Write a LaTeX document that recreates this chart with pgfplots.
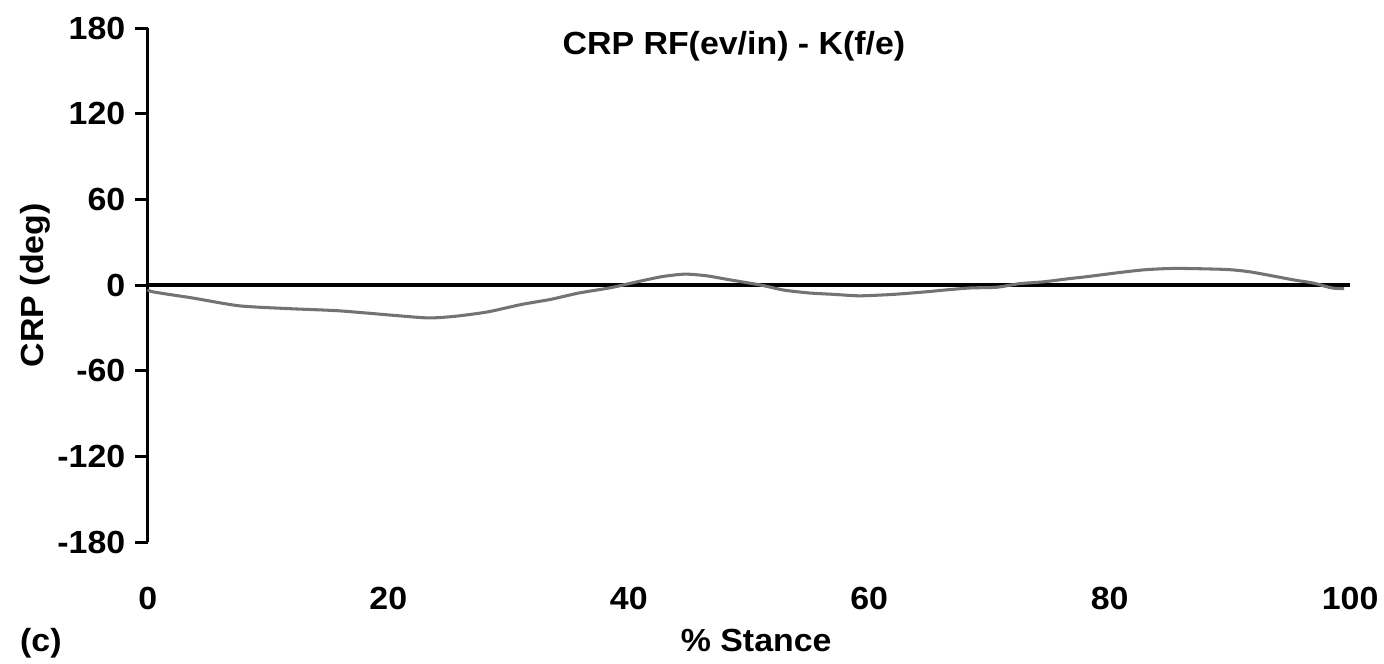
\documentclass[border=0pt]{standalone}
\usepackage{fontspec}
\setmainfont{Liberation Sans}[FakeStretch=1.06]
\usepackage{pgfplots}
\pgfplotsset{compat=1.18}
\begin{document}
\begin{tikzpicture}
\begin{axis}[
  at={(0,0)}, anchor=south west,
  scale only axis, width=432.4pt, height=184.9pt,
  xmin=0, xmax=100, ymin=-180, ymax=180,
  axis y line*=left, axis x line*=bottom,
  axis line style={-},
  x axis line style={draw=none},
  y axis line style={line width=1.1pt},
  xtick={0,20,...,100}, ytick={-180,-120,...,180},
  xtick style={draw=none},
  ytick style={black, line width=1.1pt},
  tick align=outside, major tick length=4.6pt,
  tick label style={font=\fontsize{11.5}{13}\selectfont\bfseries},
  xticklabel style={yshift=-8pt},
  /pgf/number format/assume math mode=true,
  clip=false,
]
\addplot[black, line width=1.3pt] coordinates {(0,0) (100,0)};
\addplot[black!55, line width=1.1pt, smooth, tension=0.4] coordinates {
(0,-3) (0.4,-4.7) (3.7,-9) (7.6,-14.5) (11.8,-16.5) (15.9,-18) (20.9,-21.5) (23.4,-23) (25.6,-21.8) (28.3,-18.7) (31.1,-13.5) (33.5,-10) (35.8,-5.6) (38.5,-1.8) (40.8,2.5) (42.8,6) (44.7,7.7) (46.5,6.5) (48.2,4) (51,0) (52.9,-3.5) (55,-5.5) (57.1,-6.5) (59.2,-7.5) (62,-6.5) (65,-4.5) (66.2,-3.5) (68.4,-2) (70.6,-1.5) (72.5,1) (74.5,2.3) (76.6,4.5) (78,5.8) (80.8,8.8) (83,10.8) (85.5,11.7) (89.6,11) (91.5,9.5) (93.2,7) (95.4,3.5) (96.9,1.5) (98.5,-2) (99.5,-2.5)
};
\node[font=\fontsize{11.5}{13}\selectfont\bfseries] at (axis cs:48.75,167) {CRP RF(ev/in) - K(f/e)};
\node[font=\fontsize{11.5}{13}\selectfont\bfseries, rotate=90] at (axis cs:-9.4,0) {CRP (deg)};
\node[font=\fontsize{11.5}{13}\selectfont\bfseries] at (axis cs:50.6,-248.6) {\% Stance};
\node[font=\fontsize{11.5}{13}\selectfont\bfseries] at (axis cs:-8.9,-250.7) {(c)};
\end{axis}
\pgfresetboundingbox
\path[use as bounding box] (-53.2pt,-43.5pt) rectangle (444.6pt,195pt);
\end{tikzpicture}
\end{document}
